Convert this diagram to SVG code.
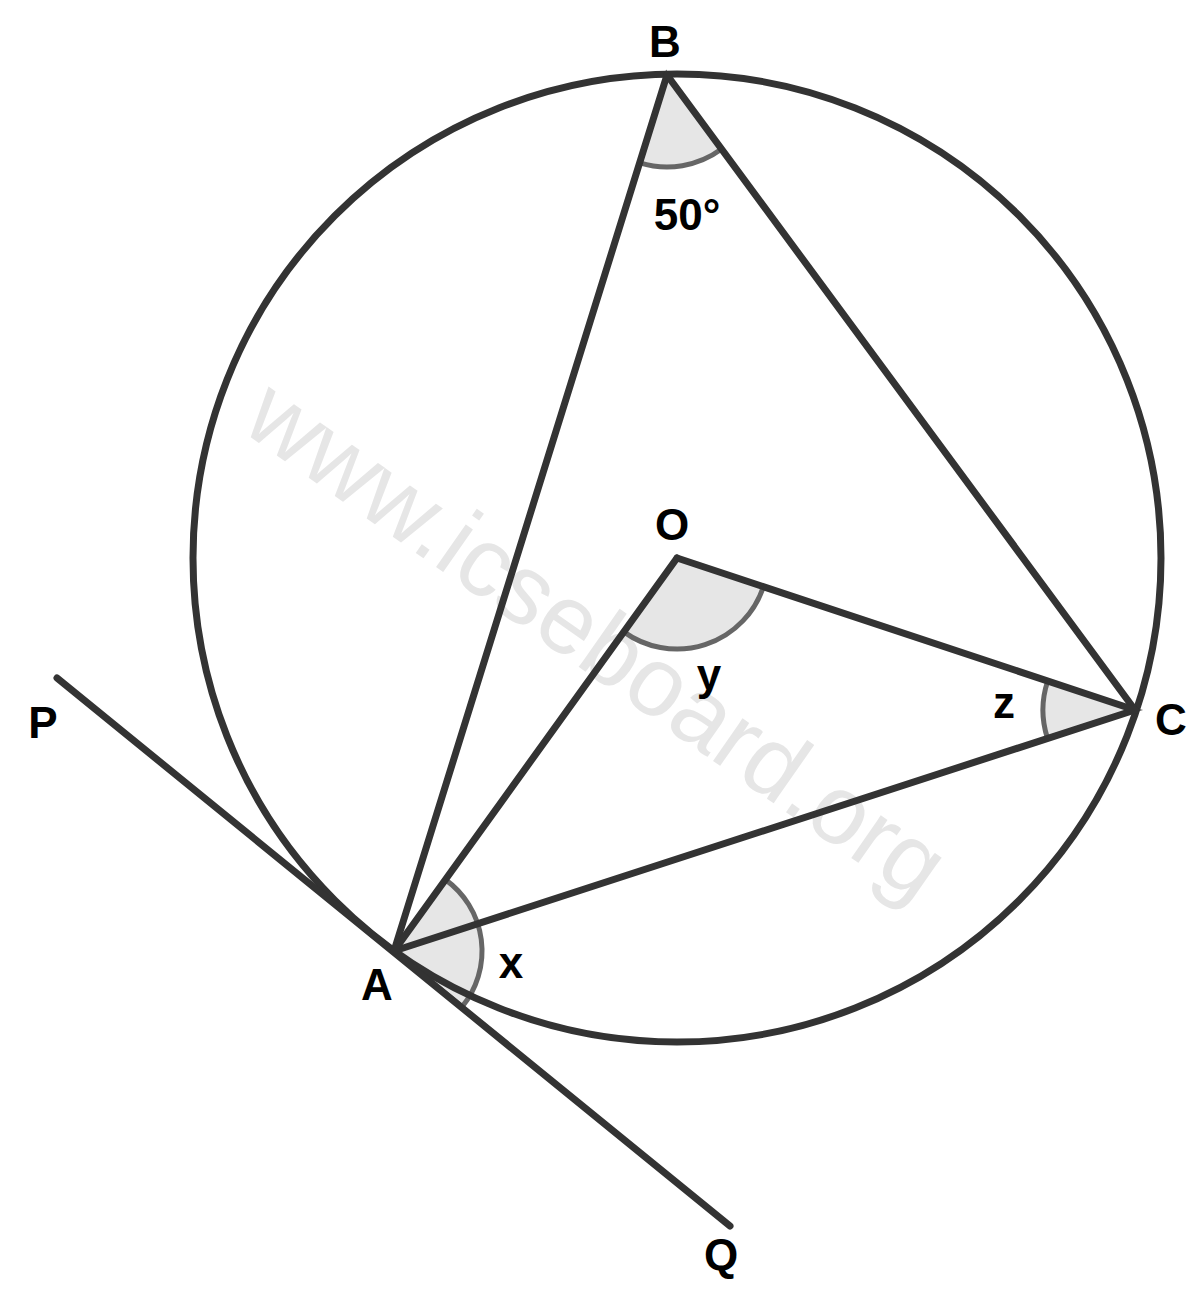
<svg xmlns="http://www.w3.org/2000/svg" width="1200" height="1297" viewBox="0 0 1200 1297">
<style>
.ln{stroke:#333;stroke-width:7;stroke-linecap:round;fill:none}
.ang{fill:#e6e6e6;stroke:#666;stroke-width:5}
.lbl{font-family:"Liberation Sans",Arial,sans-serif;font-weight:bold;font-size:44px;fill:#000;text-anchor:middle}
.wm{font-family:"Liberation Sans",Arial,sans-serif;font-size:98px;fill:#e6e6e6}
</style>
<rect width="1200" height="1297" fill="#fff"/>
<text class="wm" transform="translate(239,429) rotate(35)">www.icseboard.org</text>
<g id="angles">
<path class="ang" d="M667,75 L639.8,162.9 A92,92 0 0,0 721.6,149.1 Z"/>
<path class="ang" d="M677,558 L623.8,631.9 A91,91 0 0,0 763.4,586.7 Z"/>
<path class="ang" d="M1135,710 L1047.7,681 A92,92 0 0,0 1047.4,738.1 Z"/>
<path class="ang" d="M394,951 L445.4,879.6 A88,88 0 0,1 462.2,1006.7 Z"/>
</g>
<g id="connectors">
<circle id="circle" class="ln" cx="677" cy="558" r="484"/>
<line class="ln" x1="57" y1="678" x2="730" y2="1226"/>
<line class="ln" x1="394" y1="951" x2="667" y2="75"/>
<line class="ln" x1="667" y1="75" x2="1135" y2="710"/>
<line class="ln" x1="1135" y1="710" x2="394" y2="951"/>
<line class="ln" x1="677" y1="558" x2="394" y2="951"/>
<line class="ln" x1="677" y1="558" x2="1135" y2="710"/>
</g>
<g id="B"><text class="lbl" x="665" y="57">B</text></g>
<g id="angleB"><text class="lbl" x="687" y="230">50°</text></g>
<g id="O"><text class="lbl" x="672" y="540">O</text></g>
<g id="angleY"><text class="lbl" x="709" y="690">y</text></g>
<g id="angleZ"><text class="lbl" x="1004" y="718">z</text></g>
<g id="C"><text class="lbl" x="1171" y="735">C</text></g>
<g id="P"><text class="lbl" x="43" y="738">P</text></g>
<g id="A"><text class="lbl" x="377" y="1000">A</text></g>
<g id="angleX"><text class="lbl" x="511" y="978">x</text></g>
<g id="Q"><text class="lbl" x="721" y="1270">Q</text></g>
</svg>
